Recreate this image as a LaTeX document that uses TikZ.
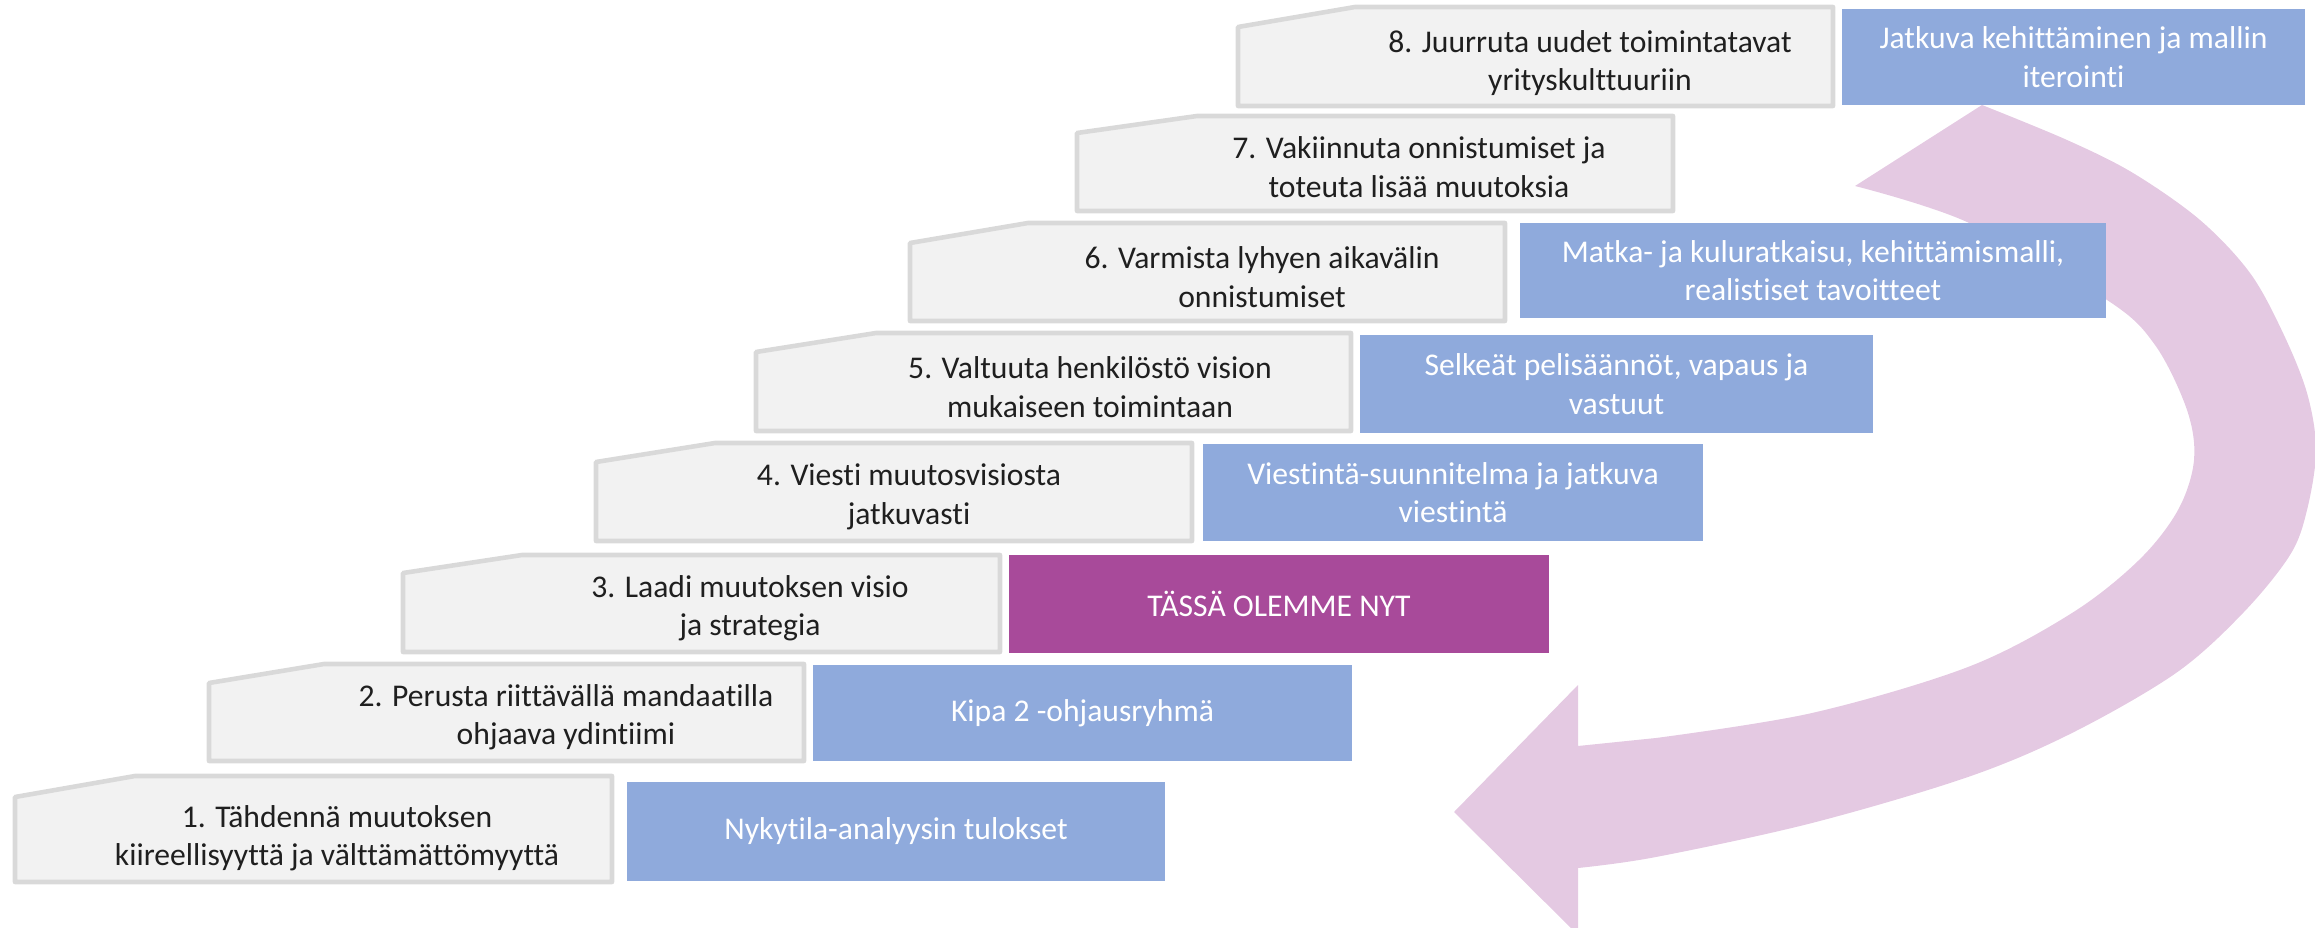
\documentclass[tikz,border=0pt]{standalone}
\usepackage{fontspec}
\setmainfont{Carlito}[Ligatures=NoCommon]
\definecolor{stepfill}{HTML}{F2F2F2}
\definecolor{stepline}{HTML}{D9D9D9}
\definecolor{boxblue}{HTML}{8FAADC}
\definecolor{boxpurple}{HTML}{A84A9A}
\definecolor{arrowpink}{HTML}{E4C9E2}
\tikzset{
  stepshape/.style={fill=stepfill, draw=stepline, line width=2.6pt, line join=round},
  steptext/.style={align=center, font=\fontsize{18}{21.9}\selectfont, text=black!88, inner sep=0pt},
  boxtext/.style={align=center, font=\fontsize{18}{21.9}\selectfont, text=white, inner sep=0pt},
}
\begin{document}
\begin{tikzpicture}[x=0.02cm, y=-0.02cm]
\useasboundingbox (0,0) rectangle (2315,928);
\begin{scope}
\clip (0,0) rectangle (2315,928);
% curved arrow
\fill[arrowpink] plot[smooth, tension=0.55] coordinates {(1982,105) (2067,140) (2133,173) (2200,220) (2250,273) (2283,333) (2307,393) (2316,450) (2307,510) (2290,555) (2243,613) (2176,673) (2072,733) (1968,777) (1812,823) (1656,857) (1578,868)}
  -- (1578,935) -- (1454,812) -- (1578,685) -- (1578,746)
  -- plot[smooth, tension=0.55] coordinates {(1656,738) (1812,713) (1968,667) (2072,613) (2139,560) (2178,510) (2194,460) (2187,410) (2155,345) (2107,300) (1967,222) (1855,186)} -- cycle;
\end{scope}
% steps
\draw[stepshape] (15,797) -- (135,776) -- (612,776) -- (612,882) -- (15,882) -- cycle;
\draw[stepshape] (209,683) -- (324,664) -- (804,664) -- (804,761) -- (209,761) -- cycle;
\draw[stepshape] (403,573) -- (522,555) -- (1000,555) -- (1000,652) -- (403,652) -- cycle;
\draw[stepshape] (596,462) -- (715,443) -- (1192,443) -- (1192,541) -- (596,541) -- cycle;
\draw[stepshape] (756,352) -- (876,333) -- (1351,333) -- (1351,431) -- (756,431) -- cycle;
\draw[stepshape] (910,243) -- (1028,223) -- (1505,223) -- (1505,321) -- (910,321) -- cycle;
\draw[stepshape] (1077,133) -- (1197,116) -- (1673,116) -- (1673,211) -- (1077,211) -- cycle;
\draw[stepshape] (1238,27) -- (1355,7) -- (1833,7) -- (1833,106) -- (1238,106) -- cycle;
\node[steptext] (s1) at (337,838) {1. Tähdennä muutoksen\\kiireellisyyttä ja välttämättömyyttä};
\node[steptext] (s2) at (566,717) {2. Perusta riittävällä mandaatilla\\ohjaava ydintiimi};
\node[steptext] (s3) at (750,608) {3. Laadi muutoksen visio\\ja strategia};
\node[steptext] (s4) at (909,497) {4. Viesti muutosvisiosta\\jatkuvasti};
\node[steptext] (s5) at (1090,387) {5. Valtuuta henkilöstö vision\\mukaiseen toimintaan};
\node[steptext] (s6) at (1262,277) {6. Varmista lyhyen aikavälin\\onnistumiset};
\node[steptext] (s7) at (1419,167) {7. Vakiinnuta onnistumiset ja\\toteuta lisää muutoksia};
\node[steptext] (s8) at (1590,63) {8. Juurruta uudet toimintatavat\\yrityskulttuuriin};
% boxes
\fill[boxblue] (627,782) rectangle (1165,881);
\node[boxtext] (b1) at (896,831.5) {Nykytila-analyysin tulokset};
\fill[boxblue] (813,665) rectangle (1352,761);
\node[boxtext] (b2) at (1082.5,713) {Kipa 2 -ohjausryhmä};
\fill[boxpurple] (1009,555) rectangle (1549,653);
\node[boxtext] (b3) at (1279,604) {TÄSSÄ OLEMME NYT};
\fill[boxblue] (1203,444) rectangle (1703,541);
\node[boxtext] (b4) at (1453,492.5) {Viestintä-suunnitelma ja jatkuva\\viestintä};
\fill[boxblue] (1360,335) rectangle (1873,433);
\node[boxtext] (b5) at (1616.5,384) {Selkeät pelisäännöt, vapaus ja\\vastuut};
\fill[boxblue] (1520,223) rectangle (2106,318);
\node[boxtext] (b6) at (1813,270.5) {Matka- ja kuluratkaisu, kehittämismalli,\\realistiset tavoitteet};
\fill[boxblue] (1842,9) rectangle (2305,105);
\node[boxtext] (b8) at (2073.5,57) {Jatkuva kehittäminen ja mallin\\iterointi};
\end{tikzpicture}
\end{document}
